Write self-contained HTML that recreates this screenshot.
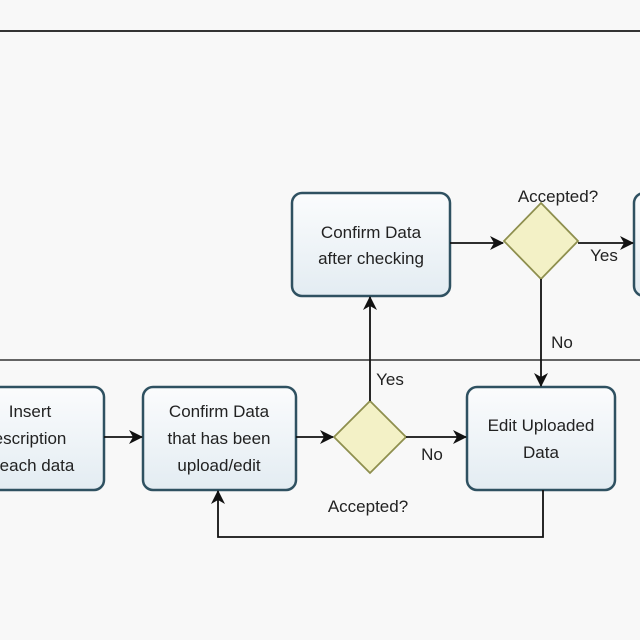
<!DOCTYPE html>
<html><head><meta charset="utf-8"><style>
html,body{margin:0;padding:0;background:#fff;}
svg{display:block;}
text{font-family:"Liberation Sans","DejaVu Sans",sans-serif;font-size:17px;fill:#222;}
</style></head><body>
<svg width="640" height="640" viewBox="0 0 640 640">
<defs>
<linearGradient id="bg" x1="0" y1="0" x2="0" y2="1"><stop offset="0" stop-color="#fbfcfd"/><stop offset="1" stop-color="#e3ecf2"/></linearGradient>
<marker id="a" markerWidth="14" markerHeight="14" refX="13" refY="7" orient="auto" markerUnits="userSpaceOnUse"><path d="M0,0 L14,7 L0,14 L4,7 Z" fill="#111"/></marker>
</defs>
<rect x="0" y="0" width="640" height="640" fill="#f8f8f8"/>
<line x1="0" y1="31" x2="640" y2="31" stroke="#333" stroke-width="2"/>
<line x1="0" y1="360" x2="640" y2="360" stroke="#333" stroke-width="1.5"/>
<g fill="url(#bg)" stroke="#2f5161" stroke-width="2.5">
<rect x="292" y="193" width="158" height="103" rx="10"/>
<rect x="634" y="193" width="30" height="103" rx="10"/>
<rect x="-12" y="387" width="116" height="103" rx="10"/>
<rect x="143" y="387" width="153" height="103" rx="10"/>
<rect x="467" y="387" width="148" height="103" rx="10"/>
</g>
<g fill="#f3f1c6" stroke="#8e8f4e" stroke-width="1.8">
<polygon points="541,203 578,241 541,279 504,241"/>
<polygon points="370,401 406,437 370,473 334,437"/>
</g>
<g stroke="#111" stroke-width="1.8" fill="none">
<line x1="450" y1="243" x2="503" y2="243" marker-end="url(#a)"/>
<line x1="578" y1="243" x2="633" y2="243" marker-end="url(#a)"/>
<line x1="541" y1="279" x2="541" y2="386" marker-end="url(#a)"/>
<line x1="370" y1="401" x2="370" y2="297" marker-end="url(#a)"/>
<line x1="104" y1="437" x2="142" y2="437" marker-end="url(#a)"/>
<line x1="296" y1="437" x2="333" y2="437" marker-end="url(#a)"/>
<line x1="406" y1="437" x2="466" y2="437" marker-end="url(#a)"/>
<polyline points="543,490 543,537 218,537 218,491" marker-end="url(#a)"/>
</g>
<g text-anchor="middle">
<text x="371" y="238">Confirm Data</text>
<text x="371" y="264">after checking</text>
<text x="558" y="202">Accepted?</text>
<text x="604" y="261">Yes</text>
<text x="562" y="348">No</text>
<text x="390" y="385">Yes</text>
<text x="432" y="460">No</text>
<text x="368" y="512">Accepted?</text>
<text x="30" y="417">Insert</text>
<text x="30" y="444">escription</text>
<text x="37" y="471">each data</text>
<text x="219" y="417">Confirm Data</text>
<text x="219" y="444">that has been</text>
<text x="219" y="471">upload/edit</text>
<text x="541" y="431">Edit Uploaded</text>
<text x="541" y="458">Data</text>
</g>
</svg>
</body></html>
